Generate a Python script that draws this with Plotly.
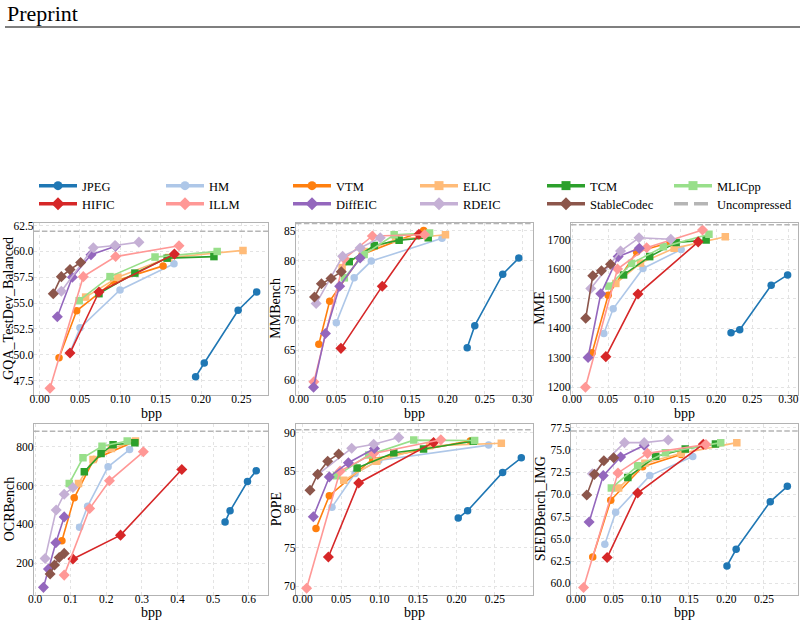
import plotly.graph_objects as go

# ---------------- data ----------------
CODECS = ["JPEG", "HM", "VTM", "ELIC", "TCM", "MLICpp",
          "HIFIC", "ILLM", "DiffEIC", "RDEIC", "StableCodec"]

GQA_BPP = {
    "JPEG": [0.1933, 0.204, 0.246, 0.269],
    "HM": [0.0375, 0.050, 0.0996, 0.1665],
    "VTM": [0.024, 0.0459, 0.092, 0.153],
    "ELIC": [0.057, 0.097, 0.160, 0.252],
    "TCM": [0.0735, 0.118, 0.158, 0.216],
    "MLICpp": [0.049, 0.0872, 0.143, 0.220],
    "HIFIC": [0.0376, 0.0735, 0.167],
    "ILLM": [0.0128, 0.0541, 0.0942, 0.1727],
    "DiffEIC": [0.0219, 0.0405, 0.0636, 0.094],
    "RDEIC": [0.0269, 0.0665, 0.0934, 0.123],
    "StableCodec": [0.0169, 0.0269, 0.0376, 0.0508],
}
GQA_SCORE = {
    "JPEG": [47.86, 49.2, 54.3, 56.07],
    "HM": [50.2, 52.6, 56.27, 58.8],
    "VTM": [49.7, 54.25, 57.1, 58.6],
    "ELIC": [55.58, 57.5, 59.4, 60.1],
    "TCM": [55.91, 57.9, 59.35, 59.5],
    "MLICpp": [55.23, 57.56, 59.45, 60.0],
    "HIFIC": [50.16, 56.07, 59.74],
    "ILLM": [46.75, 57.56, 59.5, 60.55],
    "DiffEIC": [53.67, 57.5, 59.68, 60.5],
    "RDEIC": [56.14, 60.36, 60.58, 60.9],
    "StableCodec": [55.91, 57.56, 58.24, 58.93],
}
GQA_UNCOMPRESSED = 61.95

MMB_BPP = {
    "JPEG": [0.2262, 0.2364, 0.274, 0.2956],
    "HM": [0.0502, 0.0742, 0.0973, 0.1924],
    "VTM": [0.0267, 0.0413, 0.085, 0.1676],
    "ELIC": [0.058, 0.088, 0.130, 0.197],
    "TCM": [0.0676, 0.1013, 0.1347, 0.1738],
    "MLICpp": [0.061, 0.0876, 0.128, 0.1756],
    "HIFIC": [0.0564, 0.112, 0.1613],
    "ILLM": [0.020, 0.061, 0.0987, 0.169],
    "DiffEIC": [0.0196, 0.0356, 0.0547, 0.0822],
    "RDEIC": [0.0231, 0.0587, 0.0822, 0.1093],
    "StableCodec": [0.0209, 0.0302, 0.0431, 0.0569],
}
MMB_SCORE = {
    "JPEG": [65.4, 69.1, 77.7, 80.4],
    "HM": [69.6, 77.1, 79.9, 83.7],
    "VTM": [66.0, 73.2, 81.0, 85.0],
    "ELIC": [78.8, 81.5, 83.5, 84.3],
    "TCM": [79.8, 82.5, 83.4, 83.8],
    "MLICpp": [77.1, 81.0, 84.3, 84.6],
    "HIFIC": [65.3, 75.7, 84.4],
    "ILLM": [59.7, 80.3, 84.1, 84.3],
    "DiffEIC": [58.8, 67.8, 75.7, 80.4],
    "RDEIC": [72.8, 80.7, 82.1, 83.8],
    "StableCodec": [73.9, 76.1, 77.0, 78.1],
}
MMB_UNCOMPRESSED = 86.2

MME_BPP = {
    "JPEG": [0.2205, 0.2326, 0.2762, 0.299],
    "HM": [0.0441, 0.0571, 0.0984, 0.1513],
    "VTM": [0.0279, 0.0501, 0.0896, 0.136],
    "ELIC": [0.0608, 0.095, 0.1416, 0.2126],
    "TCM": [0.0715, 0.1077, 0.1444, 0.186],
    "MLICpp": [0.0511, 0.0826, 0.1267, 0.1899],
    "HIFIC": [0.0469, 0.0915, 0.175],
    "ILLM": [0.0186, 0.0631, 0.1035, 0.181],
    "DiffEIC": [0.0223, 0.0399, 0.064, 0.0933],
    "RDEIC": [0.026, 0.0673, 0.0929, 0.137],
    "StableCodec": [0.019, 0.0288, 0.0408, 0.0534],
}
MME_SCORE = {
    "JPEG": [1384, 1394, 1545, 1580],
    "HM": [1381, 1465, 1602, 1666],
    "VTM": [1316, 1511, 1658, 1690],
    "ELIC": [1551, 1620, 1670, 1709],
    "TCM": [1580, 1642, 1690, 1698],
    "MLICpp": [1542, 1619, 1675, 1718],
    "HIFIC": [1303, 1515, 1692],
    "ILLM": [1199, 1600, 1672, 1732],
    "DiffEIC": [1300, 1516, 1642, 1670],
    "RDEIC": [1534, 1661, 1706, 1701],
    "StableCodec": [1433, 1577, 1594, 1616],
}
MME_UNCOMPRESSED = 1750

OCR_BPP = {
    "JPEG": [0.5334, 0.5475, 0.5964, 0.6209],
    "HM": [0.125, 0.1477, 0.205, 0.2653],
    "VTM": [0.0753, 0.110, 0.165, 0.2775],
    "ELIC": [0.122, 0.1627, 0.2145, 0.282],
    "TCM": [0.1383, 0.1853, 0.219, 0.2803],
    "MLICpp": [0.096, 0.1345, 0.188, 0.2587],
    "HIFIC": [0.1063, 0.240, 0.412],
    "ILLM": [0.0818, 0.1533, 0.2088, 0.304],
    "DiffEIC": [0.0235, 0.0376, 0.0583, 0.0818],
    "RDEIC": [0.0282, 0.0593, 0.0818, 0.1063],
    "StableCodec": [0.0423, 0.0546, 0.0677, 0.0818],
}
OCR_SCORE = {
    "JPEG": [412, 470, 621, 676],
    "HM": [385, 494, 697, 786],
    "VTM": [316, 537, 735, 826],
    "ELIC": [611, 734, 791, 830],
    "TCM": [671, 765, 811, 821],
    "MLICpp": [611, 743, 803, 830],
    "HIFIC": [222, 345, 683],
    "ILLM": [139, 482, 625, 774],
    "DiffEIC": [76, 170, 306, 439],
    "RDEIC": [225, 474, 556, 590],
    "StableCodec": [145, 191, 230, 251],
}
OCR_UNCOMPRESSED = 880

POPE_BPP = {
    "JPEG": [0.2023, 0.2145, 0.260, 0.2843],
    "HM": [0.0382, 0.0682, 0.099, 0.2418],
    "VTM": [0.0174, 0.0347, 0.0911, 0.218],
    "ELIC": [0.0534, 0.0964, 0.165, 0.2583],
    "TCM": [0.0708, 0.1185, 0.1572, 0.2218],
    "MLICpp": [0.0443, 0.0859, 0.1445, 0.2236],
    "HIFIC": [0.0335, 0.0729, 0.1702],
    "ILLM": [0.0052, 0.0487, 0.0924, 0.1797],
    "DiffEIC": [0.0139, 0.0347, 0.0595, 0.0934],
    "RDEIC": [0.0196, 0.0638, 0.0924, 0.125],
    "StableCodec": [0.0096, 0.0196, 0.0326, 0.0469],
}
POPE_SCORE = {
    "JPEG": [78.87, 79.83, 84.83, 86.74],
    "HM": [80.3, 84.7, 86.4, 88.4],
    "VTM": [77.5, 81.8, 86.6, 88.95],
    "ELIC": [83.8, 86.3, 88.3, 88.65],
    "TCM": [85.4, 87.4, 87.9, 88.9],
    "MLICpp": [84.4, 87.1, 89.05, 89.0],
    "HIFIC": [73.8, 83.46, 88.75],
    "ILLM": [69.7, 85.0, 87.3, 89.1],
    "DiffEIC": [79.05, 84.25, 86.1, 87.95],
    "RDEIC": [84.56, 88.0, 88.5, 89.4],
    "StableCodec": [82.5, 84.6, 86.3, 87.25],
}
POPE_UNCOMPRESSED = 90.4

SEED_BPP = {
    "JPEG": [0.2008, 0.213, 0.2584, 0.2811],
    "HM": [0.0383, 0.0527, 0.0981, 0.1553],
    "VTM": [0.0222, 0.0462, 0.0886, 0.1396],
    "ELIC": [0.0567, 0.0916, 0.1396, 0.2139],
    "TCM": [0.0689, 0.106, 0.1453, 0.1855],
    "MLICpp": [0.047, 0.082, 0.1191, 0.1925],
    "HIFIC": [0.0414, 0.082, 0.1693],
    "ILLM": [0.010, 0.0558, 0.0951, 0.1728],
    "DiffEIC": [0.0174, 0.0362, 0.0593, 0.0907],
    "RDEIC": [0.0217, 0.0645, 0.0907, 0.1226],
    "StableCodec": [0.0143, 0.0244, 0.037, 0.0501],
}
SEED_SCORE = {
    "JPEG": [61.96, 63.83, 69.18, 70.9],
    "HM": [64.4, 67.98, 72.1, 74.25],
    "VTM": [62.97, 69.33, 73.1, 74.48],
    "ELIC": [70.7, 73.5, 74.6, 75.8],
    "TCM": [71.9, 74.26, 75.1, 75.64],
    "MLICpp": [70.7, 73.2, 74.66, 75.8],
    "HIFIC": [62.9, 70.15, 75.63],
    "ILLM": [59.55, 72.4, 74.6, 75.6],
    "DiffEIC": [66.9, 72.1, 74.2, 75.5],
    "RDEIC": [72.3, 75.8, 75.8, 76.1],
    "StableCodec": [69.93, 72.24, 73.77, 74.1],
}
SEED_UNCOMPRESSED = 77.1

Y_TITLES = ["GQA_TestDev_Balanced", "MMBench", "MME", "OCRBench", "POPE", "SEEDBench_IMG"]
X_TITLE = "bpp"

# ---------------- styling ----------------
COLORS = {
    "JPEG": "#1f77b4", "HM": "#aec7e8", "VTM": "#ff7f0e", "ELIC": "#ffbb78",
    "TCM": "#2ca02c", "MLICpp": "#98df8a", "HIFIC": "#d62728", "ILLM": "#ff9896",
    "DiffEIC": "#9467bd", "RDEIC": "#c5b0d5", "StableCodec": "#8c564b",
}
SYMBOLS = {
    "JPEG": "circle", "HM": "circle", "VTM": "circle",
    "ELIC": "square", "TCM": "square", "MLICpp": "square",
    "HIFIC": "diamond", "ILLM": "diamond", "DiffEIC": "diamond",
    "RDEIC": "diamond", "StableCodec": "diamond",
}
UNC_COLOR = "#b5b5b5"
FONT = "Liberation Serif"

W, H = 804, 626

panels = [
    # (bpp, score, uncompressed, xrange, yrange, xdtick, xfmt, ydtick, yfmt, ytick0)
    (GQA_BPP, GQA_SCORE, GQA_UNCOMPRESSED,
     [-0.007, 0.283], [46.1, 62.8], 0.05, ".2f", 2.5, ".1f", 47.5),
    (MMB_BPP, MMB_SCORE, MMB_UNCOMPRESSED,
     [-0.004, 0.3147], [57.5, 86.35], 0.05, ".2f", 5, "d", 60),
    (MME_BPP, MME_SCORE, MME_UNCOMPRESSED,
     [-0.0014, 0.3134], [1173, 1757.6], 0.05, ".2f", 100, "d", 1200),
    (OCR_BPP, OCR_SCORE, OCR_UNCOMPRESSED,
     [-0.003, 0.654], [36.6, 920], 0.1, ".1f", 200, "d", 200),
    (POPE_BPP, POPE_SCORE, POPE_UNCOMPRESSED,
     [-0.0086, 0.2995], [68.83, 91.22], 0.05, ".2f", 5, "d", 70),
    (SEED_BPP, SEED_SCORE, SEED_UNCOMPRESSED,
     [-0.0067, 0.2953], [58.7, 77.95], 0.05, ".2f", 2.5, ".1f", 60),
]

col_px = [(34, 268), (296, 533), (571, 798)]
row_px = [(222.5, 395), (423.5, 595)]
ytitle_x = [9, 276, 540]
xtitle_y = [413, 612]

fig = go.Figure()
annotations = []
layout = dict(
    width=W, height=H,
    margin=dict(l=0, r=0, t=0, b=0, autoexpand=False),
    paper_bgcolor="white", plot_bgcolor="white",
    font=dict(family=FONT, size=12, color="black"),
    showlegend=True,
)

for i, (bpp, score, unc, xr, yr, xdt, xf, ydt, yf, y0) in enumerate(panels):
    r, c = divmod(i, 3)
    n = i + 1
    xa = "x" if n == 1 else f"x{n}"
    ya = "y" if n == 1 else f"y{n}"
    for name in CODECS:
        fig.add_trace(go.Scatter(
            x=bpp[name], y=score[name], mode="lines+markers", name=name,
            xaxis=xa, yaxis=ya, showlegend=False,
            line=dict(color=COLORS[name], width=1.6),
            marker=dict(symbol=SYMBOLS[name], color=COLORS[name],
                        size=8.5 if SYMBOLS[name] == "diamond" else 7.5),
        ))
    fig.add_trace(go.Scatter(
        x=xr, y=[unc, unc], mode="lines", name="Uncompressed",
        xaxis=xa, yaxis=ya, showlegend=False, hoverinfo="skip",
        line=dict(color=UNC_COLOR, width=1.5, dash="5.5px,2.4px"),
    ))
    x0, x1 = col_px[c]
    yt, yb = row_px[r]
    axcommon = dict(showline=True, mirror=True, linecolor="#b3b3b3", linewidth=1.2,
                    showgrid=True, gridcolor="#e3e3e3", griddash="dot", gridwidth=1,
                    zeroline=False, ticks="", automargin=False,
                    tickfont=dict(family=FONT, size=11.5, color="black"))
    layout["xaxis" if n == 1 else f"xaxis{n}"] = dict(
        axcommon, domain=[x0 / W, x1 / W], anchor=ya, range=xr,
        dtick=xdt, tick0=0, tickformat=xf, ticklabelstandoff=-7,
    )
    layout["yaxis" if n == 1 else f"yaxis{n}"] = dict(
        axcommon, domain=[1 - yb / H, 1 - yt / H], anchor=xa, range=yr,
        dtick=ydt, tick0=y0, tickformat=yf, ticklabelstandoff=-3,
    )
    # axis titles
    annotations.append(dict(
        text=Y_TITLES[i], xref="paper", yref="paper",
        x=ytitle_x[c] / W, y=1 - (yt + yb) / 2 / H, textangle=-90,
        xanchor="center", yanchor="middle", showarrow=False,
        font=dict(family=FONT, size=14, color="black"),
    ))
    annotations.append(dict(
        text=X_TITLE, xref="paper", yref="paper",
        x=(x0 + x1) / 2 / W, y=1 - xtitle_y[r] / H,
        xanchor="center", yanchor="middle", showarrow=False,
        font=dict(family=FONT, size=14, color="black"),
    ))

# legend-only entries (two rows, as in the reference)
row1 = ["JPEG", "HM", "VTM", "ELIC", "TCM", "MLICpp"]
row2 = ["HIFIC", "ILLM", "DiffEIC", "RDEIC", "StableCodec"]
for name in row1 + row2:
    fig.add_trace(go.Scatter(
        x=[None], y=[None], mode="lines+markers", name=name,
        legend="legend" if name in row1 else "legend2",
        line=dict(color=COLORS[name], width=3.5),
        marker=dict(symbol=SYMBOLS[name], color=COLORS[name],
                    size=10 if SYMBOLS[name] == "diamond" else 9),
    ))
fig.add_trace(go.Scatter(
    x=[None], y=[None], mode="lines", name="Uncompressed", legend="legend2",
    line=dict(color=UNC_COLOR, width=3.5, dash="14px,6px"),
))

legcommon = dict(orientation="h", xanchor="left", yanchor="middle",
                 x=34 / W, entrywidth=74, entrywidthmode="pixels", itemwidth=38,
                 font=dict(family=FONT, size=12.5, color="black"),
                 bgcolor="rgba(0,0,0,0)", traceorder="normal", itemclick=False)
layout["legend"] = dict(legcommon, y=1 - 186 / H)
layout["legend2"] = dict(legcommon, y=1 - 204 / H)

# header "Preprint" with rule
annotations.append(dict(
    text="Preprint", xref="paper", yref="paper", x=5 / W, y=1 - 14 / H,
    xanchor="left", yanchor="middle", showarrow=False,
    font=dict(family=FONT, size=22, color="black"),
))
layout["annotations"] = annotations
layout["shapes"] = [dict(
    type="line", xref="paper", yref="paper", x0=5 / W, x1=800 / W,
    y0=1 - 27 / H, y1=1 - 27 / H, line=dict(color="black", width=1.2),
)]

fig.update_layout(**layout)
fig.write_html("out.html")
